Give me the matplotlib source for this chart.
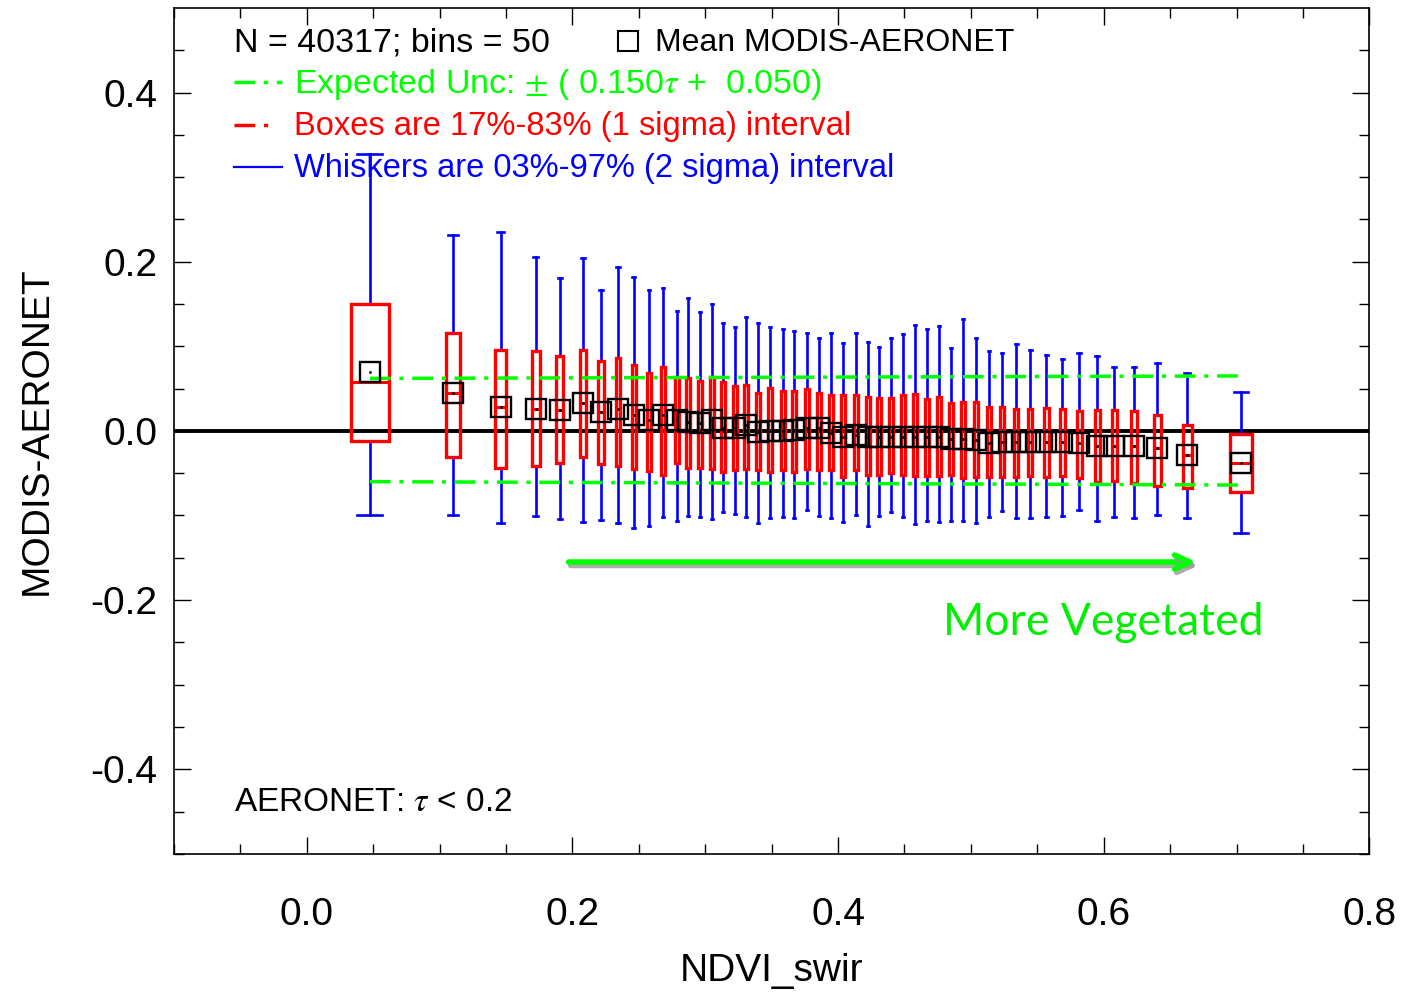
#
#   MODIS-AERONET difference vs NDVI_swir, binned box-whisker plot
#
import numpy as np
import matplotlib
matplotlib.use('Agg')
from matplotlib import pyplot as plt
from matplotlib.patches import Rectangle
import matplotlib.patheffects as pe

#--------------------------------------------------------60
# Binned data

ndvi_bin = [0.0475, 0.110, 0.146, 0.1725, 0.1906, 0.208, 0.2215, 0.2343, 0.2463, 0.2576,
            0.2682, 0.2787, 0.2870, 0.2960, 0.3051, 0.3134, 0.3224, 0.3307, 0.3397, 0.3488,
            0.3586, 0.3669, 0.3766, 0.3857, 0.3947, 0.4038, 0.4136, 0.4226, 0.4309, 0.4399,
            0.4490, 0.4580, 0.4670, 0.4761, 0.4851, 0.4942, 0.5040, 0.5137, 0.5235, 0.5341,
            0.5446, 0.5567, 0.5687, 0.5815, 0.5951, 0.6079, 0.6230, 0.6403, 0.6629, 0.7036]

mean_diff = [0.070, 0.045, 0.028, 0.026, 0.025, 0.033, 0.022, 0.026, 0.019, 0.013,
             0.019, 0.013, 0.011, 0.009, 0.013, 0.004, 0.004, 0.007, -0.001, 0.000,
             0.000, 0.001, 0.004, 0.004, -0.002, -0.007, -0.005, -0.007, -0.007, -0.007,
             -0.007, -0.007, -0.007, -0.007, -0.010, -0.010, -0.011, -0.014, -0.013, -0.013,
             -0.013, -0.013, -0.013, -0.014, -0.018, -0.018, -0.018, -0.020, -0.028, -0.038]

median_diff = [0.058, 0.045, 0.028, 0.026, 0.025, 0.033, 0.022, 0.026, 0.019, 0.013,
               0.019, 0.013, 0.011, 0.009, 0.013, 0.004, 0.004, 0.007, -0.001, 0.000,
               0.000, 0.001, 0.004, 0.004, -0.002, -0.007, -0.005, -0.007, -0.007, -0.007,
               -0.007, -0.007, -0.007, -0.007, -0.010, -0.010, -0.011, -0.014, -0.013, -0.013,
               -0.013, -0.013, -0.013, -0.014, -0.018, -0.018, -0.018, -0.020, -0.028, -0.038]

p17 = [-0.012, -0.031, -0.044, -0.041, -0.038, -0.031, -0.039, -0.041, -0.045, -0.047,
       -0.052, -0.038, -0.044, -0.044, -0.045, -0.048, -0.046, -0.045, -0.046, -0.048,
       -0.046, -0.048, -0.045, -0.046, -0.046, -0.054, -0.046, -0.052, -0.052, -0.050,
       -0.052, -0.053, -0.053, -0.053, -0.052, -0.056, -0.054, -0.054, -0.054, -0.054,
       -0.053, -0.054, -0.053, -0.056, -0.060, -0.059, -0.062, -0.065, -0.067, -0.072]

p83 = [0.150, 0.116, 0.096, 0.095, 0.088, 0.096, 0.083, 0.086, 0.078, 0.069,
       0.076, 0.064, 0.062, 0.059, 0.064, 0.058, 0.053, 0.054, 0.045, 0.051,
       0.047, 0.047, 0.049, 0.045, 0.043, 0.043, 0.043, 0.040, 0.039, 0.039,
       0.043, 0.044, 0.038, 0.040, 0.033, 0.034, 0.034, 0.028, 0.028, 0.026,
       0.026, 0.027, 0.026, 0.024, 0.025, 0.025, 0.023, 0.019, 0.007, -0.004]

p03 = [-0.099, -0.099, -0.109, -0.101, -0.104, -0.108, -0.105, -0.109, -0.115, -0.113,
       -0.102, -0.106, -0.101, -0.102, -0.104, -0.096, -0.098, -0.102, -0.109, -0.103,
       -0.102, -0.103, -0.093, -0.101, -0.103, -0.108, -0.099, -0.112, -0.101, -0.096,
       -0.102, -0.110, -0.106, -0.108, -0.106, -0.106, -0.109, -0.102, -0.095, -0.103,
       -0.103, -0.102, -0.101, -0.093, -0.106, -0.102, -0.103, -0.099, -0.103, -0.121]

p97 = [0.327, 0.231, 0.235, 0.206, 0.181, 0.204, 0.167, 0.194, 0.182, 0.167,
       0.169, 0.142, 0.157, 0.140, 0.150, 0.127, 0.123, 0.135, 0.127, 0.123,
       0.120, 0.118, 0.116, 0.110, 0.116, 0.104, 0.116, 0.105, 0.099, 0.110,
       0.114, 0.125, 0.121, 0.124, 0.098, 0.132, 0.110, 0.095, 0.092, 0.103,
       0.096, 0.090, 0.085, 0.092, 0.088, 0.075, 0.076, 0.080, 0.069, 0.046]

# Expected uncertainty envelope at the first and last bin
ee_upper = [0.062, 0.065]
ee_lower = [-0.060, -0.064]

# Arrow annotation
arrow_x = [0.195, 0.672]
arrow_y = -0.155

#--------------------------------------------------------60

plt.rcParams['font.family'] = ['Liberation Sans', 'DejaVu Sans']
plt.rcParams['mathtext.fontset'] = 'stix'

fig = plt.figure(figsize=(14.03, 9.94), dpi=100)
ax = fig.add_axes([0.124, 0.141, 0.852, 0.851])

x = np.array(ndvi_bin)
gaps = np.diff(x)
# box width scales with the distance to the nearest neighbouring bin
widths = np.empty(len(x))
widths[1:-1] = 0.3*np.minimum(gaps[:-1], gaps[1:])
widths[0] = 0.45*gaps[0]
widths[-1] = 0.40*gaps[-1]

red = '#ff0000'
blue = '#0000ff'
green = '#00ff00'
ee_dash = (6, 2.5, 1.2, 2.5)

# zero line
ax.axhline(0.0, color='black', lw=2.8, zorder=2)

for i in range(len(x)):
    w = widths[i]
    # whiskers
    ax.plot([x[i], x[i]], [p83[i], p97[i]], color=blue, lw=1.9, zorder=3)
    ax.plot([x[i], x[i]], [p03[i], p17[i]], color=blue, lw=1.9, zorder=3)
    ax.plot([x[i]-w/3, x[i]+w/3], [p97[i], p97[i]], color=blue, lw=1.9, zorder=3)
    ax.plot([x[i]-w/3, x[i]+w/3], [p03[i], p03[i]], color=blue, lw=1.9, zorder=3)
    # box
    ax.add_patch(Rectangle((x[i]-w/2, p17[i]), w, p83[i]-p17[i], fill=False,
                           edgecolor=red, lw=2.4, zorder=4))
    ax.plot([x[i]-w/2, x[i]+w/2], [median_diff[i], median_diff[i]],
            color=red, lw=2.2, zorder=4)

# expected uncertainty lines
ee_x = [x[0], x[-1]]
ax.plot(ee_x, ee_upper, color=green, lw=2.5, dashes=ee_dash, zorder=5)
ax.plot(ee_x, ee_lower, color=green, lw=2.5, dashes=ee_dash, zorder=5)

# mean squares
ax.plot(x, mean_diff, ls='none', marker='s', ms=15, mfc='none', mec='black',
        mew=1.7, zorder=6)
ax.plot(x, mean_diff, ls='none', marker='.', ms=2, color='black', zorder=6)

# arrow with shadow
ax.annotate('', xy=(arrow_x[1], arrow_y), xytext=(arrow_x[0], arrow_y),
            arrowprops=dict(arrowstyle='->,head_length=1.1,head_width=0.5',
                            color=green, lw=4,
                            path_effects=[pe.SimpleLineShadow(offset=(1.5, -2.5),
                                                              shadow_color='#999999', alpha=0.8),
                                          pe.Normal()]),
            zorder=7)
ax.text(0.6, -0.2265, 'More Vegetated', color='#00ee00', fontsize=32,
        family=['Lato', 'DejaVu Sans'], ha='center', va='center', zorder=7)

# legend block
tr = ax.transAxes
fs = 23.5
ax.text(0.050, 0.959, 'N = 40317; bins = 50', transform=tr, fontsize=24.5,
        va='center', ha='left')
ax.plot([0.380], [0.961], transform=tr, marker='s', ms=14, mfc='none',
        mec='black', mew=1.5, clip_on=False)
ax.text(0.402, 0.959, 'Mean MODIS-AERONET', transform=tr, fontsize=23,
        va='center', ha='left')

ax.plot([0.050, 0.090], [0.912, 0.912], transform=tr, color=green, lw=2.5,
        dashes=ee_dash)
ax.text(0.100, 0.910, r'Expected Unc: $\pm$ ( 0.150$\tau$ +  0.050)', transform=tr,
        fontsize=24.5, color=green, va='center', ha='left')

ax.plot([0.050, 0.084], [0.862, 0.862], transform=tr, color=red, lw=2.5,
        dashes=ee_dash)
ax.text(0.100, 0.860, 'Boxes are 17%-83% (1 sigma) interval', transform=tr,
        fontsize=fs, color=red, va='center', ha='left')

ax.plot([0.050, 0.090], [0.812, 0.812], transform=tr, color=blue, lw=1.6)
ax.text(0.100, 0.810, 'Whiskers are 03%-97% (2 sigma) interval', transform=tr,
        fontsize=fs, color=blue, va='center', ha='left')

ax.text(0.050, 0.061, r'AERONET: $\tau$ < 0.2', transform=tr, fontsize=24,
        va='center', ha='left')

#--------------------------------------------------------60
# axes

ax.set_xlim(-0.1, 0.8)
ax.set_ylim(-0.5, 0.5)
ax.set_xticks([0.0, 0.2, 0.4, 0.6, 0.8])
ax.set_xticklabels(['0.0', '0.2', '0.4', '0.6', '0.8'])
ax.set_yticks([-0.4, -0.2, 0.0, 0.2, 0.4])
ax.set_yticklabels(['-0.4', '-0.2', '0.0', '0.2', '0.4'])
ax.set_xticks(np.arange(-0.1, 0.8, 0.05), minor=True)
ax.set_yticks(np.arange(-0.5, 0.5, 0.05), minor=True)
ax.tick_params(which='both', direction='in', top=True, right=True, width=1.0)
ax.tick_params(which='major', length=12)
ax.tick_params(which='minor', length=7)
ax.tick_params(axis='x', which='major', pad=31, labelsize=28)
ax.tick_params(axis='y', which='major', pad=12, labelsize=28)
for s in ax.spines.values():
    s.set_linewidth(1.2)

ax.set_xlabel('NDVI_swir', fontsize=28)
ax.set_ylabel('MODIS-AERONET', fontsize=28)
ax.xaxis.set_label_coords(0.5, -0.117)
ax.yaxis.set_label_coords(-0.100, 0.5)

fig.savefig('out.png', dpi=100)
